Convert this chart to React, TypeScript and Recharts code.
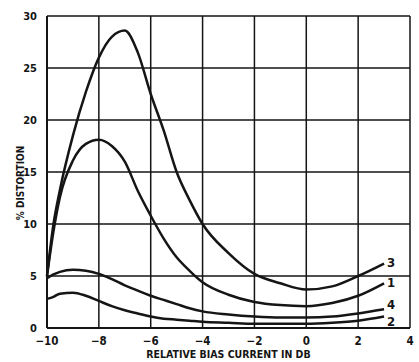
import { LineChart, Line, XAxis, YAxis, CartesianGrid, Label } from 'recharts'

const biasDb = [-10, -9.75, -9.5, -9, -8.5, -8, -7.5, -7, -6.5, -6, -5.5, -5, -4.5, -4, -3, -2, -1, 0, 1, 2, 3]
const curve1 = [5, 9.3, 12.6, 16.1, 17.7, 18.1, 17.5, 16, 13.2, 10.8, 8.6, 6.8, 5.5, 4.4, 3.2, 2.5, 2.2, 2.1, 2.4, 3.1, 4.3]
const curve2 = [2.8, 3.0, 3.3, 3.4, 3.1, 2.6, 2.1, 1.7, 1.4, 1.1, 0.9, 0.8, 0.7, 0.6, 0.5, 0.4, 0.4, 0.4, 0.5, 0.7, 1.1]
const curve3 = [5, 10, 13.3, 18.5, 22.7, 26, 28, 28.6, 26.5, 22.5, 19, 15, 12.3, 10, 7.2, 5.2, 4.3, 3.7, 4, 5, 6.2]
const curve4 = [4.8, 5.15, 5.4, 5.6, 5.5, 5.2, 4.7, 4.1, 3.6, 3.1, 2.7, 2.3, 1.9, 1.6, 1.3, 1.1, 1.0, 1.0, 1.1, 1.4, 1.8]
const xTicks = [-10, -8, -6, -4, -2, 0, 2, 4]
const yTicks = [0, 5, 10, 15, 20, 25, 30]

const data = biasDb.map((x, i) => ({
  x,
  c1: curve1[i],
  c2: curve2[i],
  c3: curve3[i],
  c4: curve4[i],
}))

const ink = '#151515'
const font = '"DejaVu Sans Condensed", "DejaVu Sans", sans-serif'

// number at the right-hand end of each curve
function endLabel(name: string, dy: number) {
  return (props: any) => {
    const { x, y, index } = props
    if (index !== biasDb.length - 1) return null
    return (
      <text x={x + 3} y={y + dy} fill={ink} fontSize={13} fontWeight="bold" fontFamily={font}>
        {name}
      </text>
    )
  }
}

const yTitle = () => (
  <text
    transform="translate(24,183) rotate(-90)"
    textAnchor="middle"
    fill={ink}
    fontSize={10}
    fontWeight="bold"
    fontFamily={font}
  >
    % DISTORTION
  </text>
)

export default function App() {
  return (
    <div style={{ position: 'absolute', left: 0, top: 0, background: '#fff' }}>
      <LineChart width={419} height={362} data={data} margin={{ top: 16, right: 9, left: 0, bottom: 0 }}>
        <CartesianGrid stroke={ink} strokeWidth={1.5} />
        <XAxis
          dataKey="x"
          type="number"
          domain={[-10, 4]}
          ticks={xTicks}
          tickFormatter={(v: number) => (v < 0 ? `\u2212${Math.abs(v)}` : `${v}`)}
          height={34}
          axisLine={{ stroke: ink, strokeWidth: 2 }}
          tickLine={false}
          tick={{ fill: ink, fontSize: 11.5, fontWeight: 'bold', fontFamily: font }}
          tickMargin={3}
        >
          <Label
            value="RELATIVE BIAS CURRENT IN DB"
            position="insideBottom"
            offset={4}
            style={{ fill: ink, fontSize: 10.5, fontWeight: 'bold', fontFamily: font }}
          />
        </XAxis>
        <YAxis
          type="number"
          domain={[0, 30]}
          ticks={yTicks}
          width={47}
          axisLine={{ stroke: ink, strokeWidth: 2 }}
          tickLine={false}
          tick={{ fill: ink, fontSize: 11, fontWeight: 'bold', fontFamily: font }}
          tickMargin={4}
        >
          <Label content={yTitle} />
        </YAxis>
        <Line type="monotone" dataKey="c3" stroke={ink} strokeWidth={2.5} dot={false} isAnimationActive={false} label={endLabel('3', 3)} />
        <Line type="monotone" dataKey="c1" stroke={ink} strokeWidth={2.5} dot={false} isAnimationActive={false} label={endLabel('1', 4)} />
        <Line type="monotone" dataKey="c4" stroke={ink} strokeWidth={2.5} dot={false} isAnimationActive={false} label={endLabel('4', 0)} />
        <Line type="monotone" dataKey="c2" stroke={ink} strokeWidth={2.5} dot={false} isAnimationActive={false} label={endLabel('2', 9)} />
      </LineChart>
    </div>
  )
}
